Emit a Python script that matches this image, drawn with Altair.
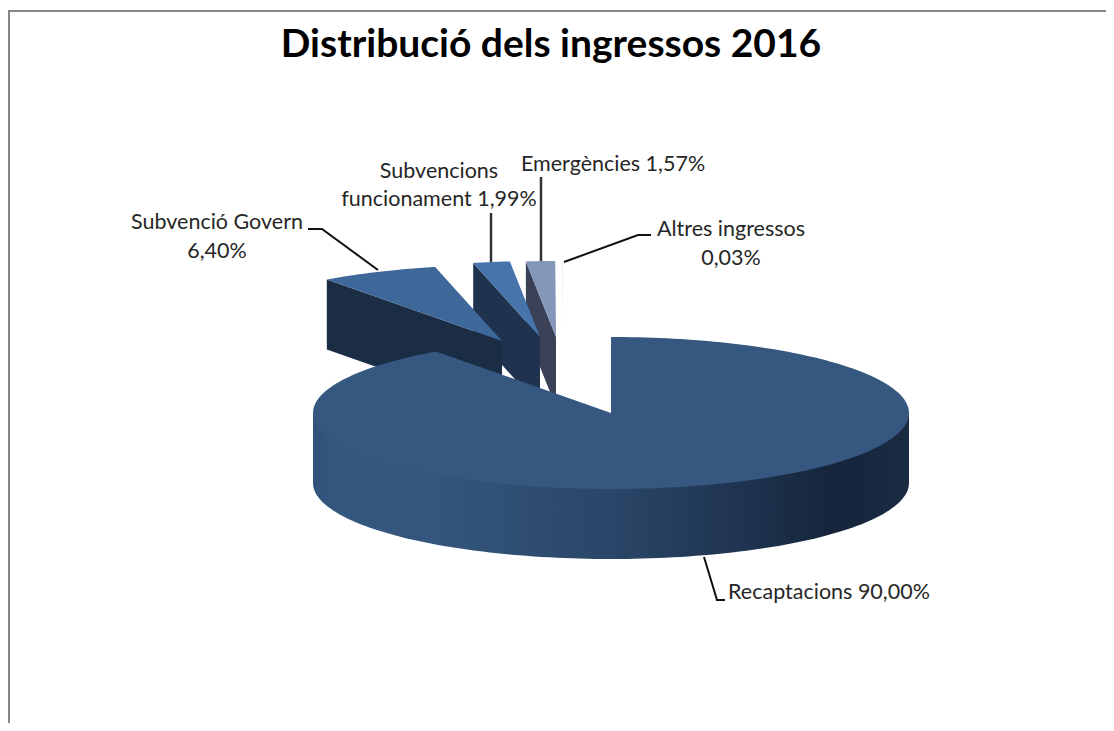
import math
import altair as alt

# ---- data ----
categories = ["Recaptacions", "Subvenció Govern", "Subvencions funcionament", "Emergències", "Altres ingressos"]
shares = [90.00, 6.40, 1.99, 1.57, 0.03]
title_text = "Distribució dels ingressos 2016"

# ---- layout (image pixels) ----
CX, CY, RX, RY, DEPTH = 611, 413, 298, 76, 70
apex = {
    "Recaptacions": (611, 413),
    "Subvenció Govern": (502, 341),
    "Subvencions funcionament": (540, 337),
    "Emergències": (556, 337),
    "Altres ingressos": (563, 338),
}
top_colors = {
    "Subvenció Govern": "#3e6899",
    "Subvencions funcionament": "#4674ab",
    "Emergències": "#8397bb",
    "Altres ingressos": "#dfe4ee",
}
face_colors = {
    "Subvenció Govern": "#1a2d45",
    "Subvencions funcionament": "#1f334f",
    "Emergències": "#3b4257",
}
X = alt.Scale(domain=[8, 1106], nice=False, zero=False)
Y = alt.Scale(domain=[723, 8], nice=False, zero=False)


def rim(ax, ay, deg):
    a = math.radians(deg)
    return (ax + RX * math.sin(a), ay - RY * math.cos(a))


def polygon(points, **mark):
    vals = [{"i": i, "x": p[0], "y": p[1]} for i, p in enumerate(points)]
    return alt.Chart(alt.Data(values=vals)).mark_line(filled=True, interpolate="linear", **mark).encode(
        x=alt.X("x:Q", scale=X, axis=None),
        y=alt.Y("y:Q", scale=Y, axis=None),
        order=alt.Order("i:Q"),
    )


def polyline(points, color="#111111", width=2):
    vals = [{"i": i, "x": p[0], "y": p[1]} for i, p in enumerate(points)]
    return alt.Chart(alt.Data(values=vals)).mark_line(color=color, strokeWidth=width).encode(
        x=alt.X("x:Q", scale=X, axis=None),
        y=alt.Y("y:Q", scale=Y, axis=None),
        order=alt.Order("i:Q"),
    )


layers = []

# frame
layers.append(polyline([(9, 723), (9, 11), (1106, 11)], color="#868686", width=2))

# angular extents from the shares, clockwise from 12 o'clock
spans = {}
start = 0.0
for c, s in zip(categories, shares):
    spans[c] = (start, start + s * 3.6)
    start += s * 3.6

# exploded slices, back to front: cut face, then top
for c in categories[:0:-1]:
    ax, ay = apex[c]
    a0, a1 = spans[c]
    if c in face_colors:
        p = rim(ax, ay, a0)
        layers.append(polygon([p, (p[0], p[1] + DEPTH), (ax, ay + DEPTH), (ax, ay)],
                              color=face_colors[c], strokeWidth=0.5))
    n = max(2, int(a1 - a0) * 2 + 2)
    arc = [rim(ax, ay, a0 + (a1 - a0) * k / (n - 1)) for k in range(n)]
    layers.append(polygon([(ax, ay)] + arc, color=top_colors[c],
                          strokeWidth=1.2 if c == "Altres ingressos" else 0.5))

# main slice: front wall (its upper edge runs under the top face)
front = [rim(CX, CY, 90 + 180 * k / 120) for k in range(121)]
wall = [(x, y + DEPTH) for x, y in front] + [front[-1], (CX, CY), front[0]]
wall_fill = alt.Gradient(
    gradient="linear", x1=0, x2=1, y1=0, y2=0,
    stops=[
        alt.GradientStop(offset=0, color="#31527a"),
        alt.GradientStop(offset=0.04, color="#35577f"),
        alt.GradientStop(offset=0.2, color="#34567d"),
        alt.GradientStop(offset=0.5, color="#2a4668"),
        alt.GradientStop(offset=0.72, color="#1f3450"),
        alt.GradientStop(offset=0.88, color="#15243a"),
        alt.GradientStop(offset=1, color="#1b2c42"),
    ],
)
layers.append(polygon(wall, fill=wall_fill, strokeWidth=0))

# main slice: top
a0, a1 = spans["Recaptacions"]
main_arc = [rim(CX, CY, a0 + (a1 - a0) * k / 240) for k in range(241)]
layers.append(polygon([(CX, CY)] + main_arc, color="#355780", strokeWidth=0.5))

# leader lines
layers.append(polyline([(378, 270), (322, 229), (308, 229)], color="#111111"))
layers.append(polyline([(491, 262), (491, 213)], color="#333333", width=2.5))
layers.append(polyline([(541, 261), (541, 177)], color="#333333", width=2.5))
layers.append(polyline([(564, 262), (638, 235), (651, 235)], color="#111111"))
layers.append(polyline([(704, 557), (717, 600), (725, 600)], color="#111111"))

# labels
label_rows = [
    {"t": "Subvenció Govern", "x": 217, "y": 223},
    {"t": "6,40%", "x": 217, "y": 252},
    {"t": "Subvencions", "x": 439, "y": 172},
    {"t": "funcionament 1,99%", "x": 439, "y": 200},
    {"t": "Emergències 1,57%", "x": 613, "y": 165},
    {"t": "Altres ingressos", "x": 731, "y": 230},
    {"t": "0,03%", "x": 731, "y": 259},
    {"t": "Recaptacions 90,00%", "x": 829, "y": 593},
]
layers.append(
    alt.Chart(alt.Data(values=label_rows)).mark_text(
        font="Lato", fontSize=21.5, color="#262626", align="center", baseline="middle"
    ).encode(
        x=alt.X("x:Q", scale=X, axis=None),
        y=alt.Y("y:Q", scale=Y, axis=None),
        text="t:N",
    )
)
layers.append(
    alt.Chart(alt.Data(values=[{"t": title_text, "x": 551, "y": 45}])).mark_text(
        font="Lato", fontSize=39, fontWeight="bold", color="#000000", align="center", baseline="middle"
    ).encode(
        x=alt.X("x:Q", scale=X, axis=None),
        y=alt.Y("y:Q", scale=Y, axis=None),
        text="t:N",
    )
)

chart = alt.layer(*layers).properties(
    width=1098, height=715, padding=0, background="#ffffff",
    autosize=alt.AutoSizeParams(type="none"),
).configure_view(stroke=None)

chart.save("out.html", embed_options={"renderer": "svg", "actions": False})
